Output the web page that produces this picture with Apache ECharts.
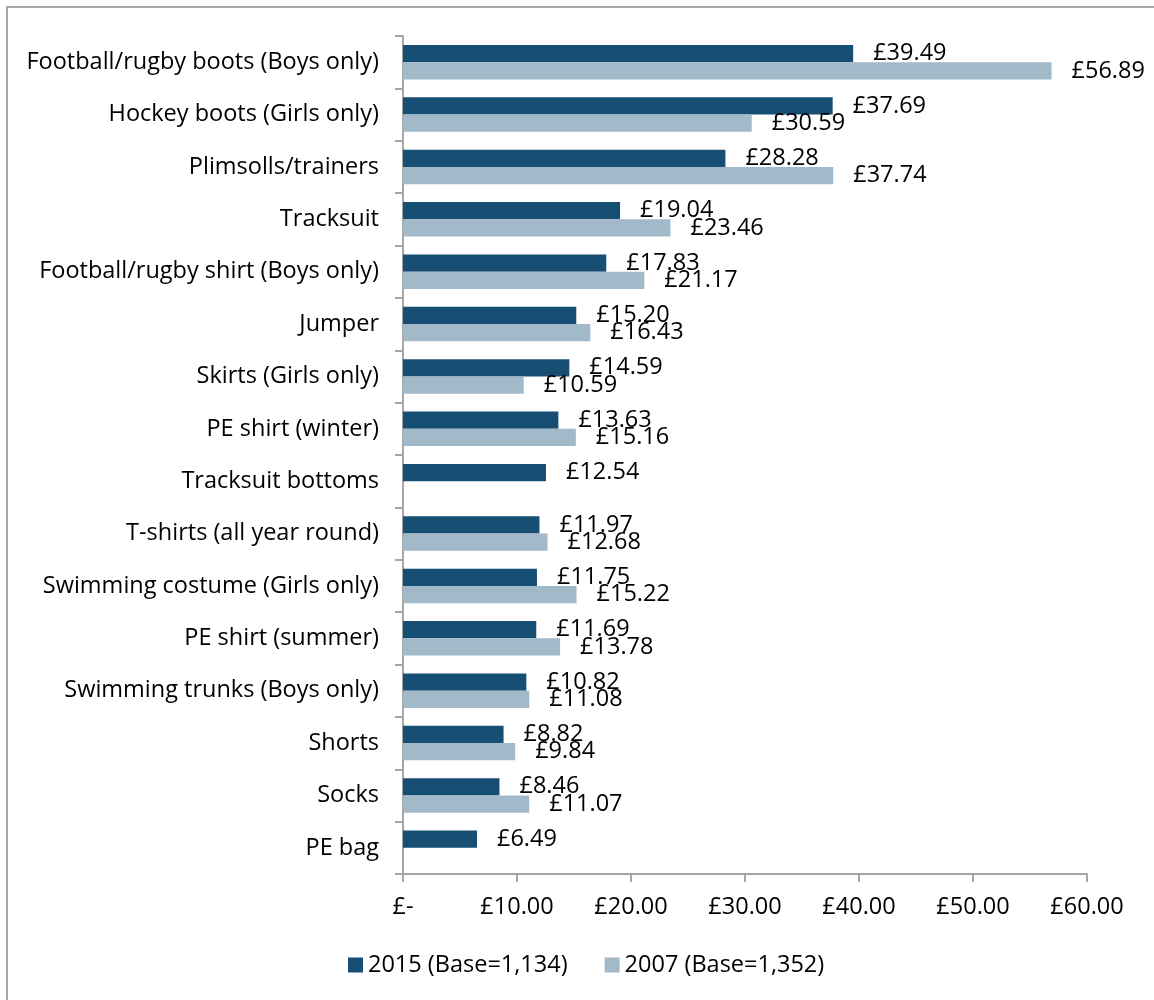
<!DOCTYPE html>
<html>
<head>
<meta charset="utf-8">
<script src="https://cdn.jsdelivr.net/npm/echarts@6/dist/echarts.min.js"></script>
<style>
    html, body { margin: 0; padding: 0; background: #fff; }
    #chart { width: 1154px; height: 1000px; }
</style>
</head>
<body>
<div id="chart"></div>
<script>
    // categories, top to bottom
    const categories = [
        'Football/rugby boots (Boys only)',
        'Hockey boots (Girls only)',
        'Plimsolls/trainers',
        'Tracksuit',
        'Football/rugby shirt (Boys only)',
        'Jumper',
        'Skirts (Girls only)',
        'PE shirt (winter)',
        'Tracksuit bottoms',
        'T-shirts (all year round)',
        'Swimming costume (Girls only)',
        'PE shirt (summer)',
        'Swimming trunks (Boys only)',
        'Shorts',
        'Socks',
        'PE bag'
    ];
    const values2015 = [39.49, 37.69, 28.28, 19.04, 17.83, 15.20, 14.59, 13.63, 12.54, 11.97, 11.75, 11.69, 10.82, 8.82, 8.46, 6.49];
    const values2007 = [56.89, 30.59, 37.74, 23.46, 21.17, 16.43, 10.59, 15.16, null, 12.68, 15.22, 13.78, 11.08, 9.84, 11.07, null];
    const seriesNames = ['2015 (Base=1,134)', '2007 (Base=1,352)'];
    const xTicks = [0, 10, 20, 30, 40, 50, 60];

    const font = 'Open Sans';
    const fs = 23.5;
    const money = v => v === 0 ? '£-' : '£' + v.toFixed(2);

    let myChart = echarts.init(document.getElementById('chart'));
    let option = {
        backgroundColor: '#fff',
        textStyle: { fontFamily: font },
        animation: false,
        graphic: [{
            type: 'rect',
            shape: { x: 7, y: 7, width: 1170, height: 1010 },
            style: { fill: 'none', stroke: '#a6a6a6', lineWidth: 2 },
            silent: true
        }],
        grid: {
            left: 403,
            right: 67,
            top: 36,
            bottom: 126
        },
        legend: {
            bottom: 18,
            left: 343,
            itemWidth: 15,
            itemHeight: 15,
            itemGap: 37,
            icon: 'rect',
            textStyle: { fontFamily: font, fontSize: fs, color: '#000' },
            data: seriesNames
        },
        xAxis: {
            type: 'value',
            min: xTicks[0],
            max: xTicks[xTicks.length - 1],
            interval: 10,
            splitLine: { show: false },
            axisLine: { show: true, lineStyle: { color: '#a6a6a6', width: 2 } },
            axisTick: { show: true, length: 8, lineStyle: { color: '#a6a6a6', width: 2 } },
            axisLabel: {
                margin: 21,
                fontSize: fs,
                fontFamily: font,
                color: '#000',
                formatter: money
            }
        },
        yAxis: {
            type: 'category',
            inverse: true,
            data: categories,
            axisLine: { show: true, lineStyle: { color: '#a6a6a6', width: 2 } },
            axisTick: { show: true, length: 8, lineStyle: { color: '#a6a6a6', width: 2 } },
            axisLabel: {
                margin: 24,
                fontSize: fs,
                fontFamily: font,
                color: '#000'
            }
        },
        series: [{
            name: seriesNames[0],
            type: 'bar',
            data: values2015,
            barGap: '0%',
            barCategoryGap: '34%',
            itemStyle: { color: '#174e73' },
            label: {
                show: true,
                position: 'right',
                distance: 20,
                fontSize: fs,
                fontFamily: font,
                color: '#000',
                formatter: p => money(p.value)
            }
        }, {
            name: seriesNames[1],
            type: 'bar',
            data: values2007,
            barGap: '0%',
            barCategoryGap: '34%',
            itemStyle: { color: '#a2b9ca' },
            label: {
                show: true,
                position: 'right',
                distance: 20,
                fontSize: fs,
                fontFamily: font,
                color: '#000',
                formatter: p => money(p.value)
            }
        }]
    };
    myChart.setOption(option);
</script>
</body>
</html>
